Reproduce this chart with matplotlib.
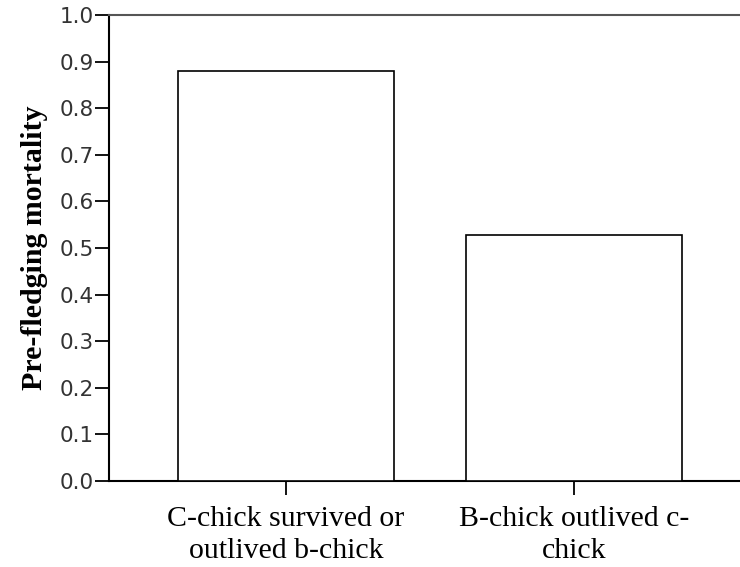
import matplotlib
matplotlib.use("Agg")
import matplotlib.pyplot as plt

categories = ["C-chick survived or\noutlived b-chick", "B-chick outlived c-\nchick"]
mortality = [0.880, 0.528]
yticks = [0.0, 0.1, 0.2, 0.3, 0.4, 0.5, 0.6, 0.7, 0.8, 0.9, 1.0]

fig = plt.figure(figsize=(7.4, 5.67), dpi=100)
ax = fig.add_axes([0.1473, 0.1517, 0.8527, 0.8219])

x = list(range(len(categories)))
ax.bar(x, mortality, width=0.75, color="white", edgecolor="black", linewidth=1.2, zorder=3)

ax.set_xlim(-0.615, 1.576)
ax.set_ylim(0, 1.0)
ax.set_yticks(yticks)
ax.set_yticklabels([f"{v:.1f}" for v in yticks], family="DejaVu Sans",
                   fontsize=15.5, color="#333333")
ax.set_xticks(x)
ax.set_xticklabels(categories, family="Liberation Serif", fontsize=21.5, linespacing=1.3)
ax.tick_params(axis="y", length=10, width=1.3, pad=1)
ax.tick_params(axis="x", length=10, width=1.3, pad=8)

ax.set_ylabel("Pre-fledging mortality", family="Liberation Serif", fontweight="bold", fontsize=21.5, labelpad=8)

ax.spines["right"].set_visible(False)
for s in ["left", "bottom"]:
    ax.spines[s].set_linewidth(1.5)
ax.spines["top"].set_linewidth(1.5)
ax.spines["top"].set_color("#555555")

fig.savefig("out.png", dpi=100)
